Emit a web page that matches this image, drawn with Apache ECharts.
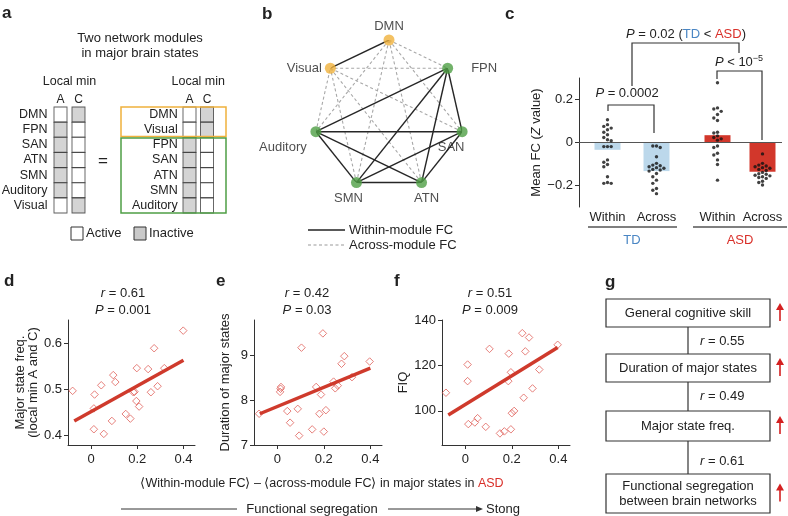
<!DOCTYPE html>
<html><head><meta charset="utf-8">
<script src="https://cdn.jsdelivr.net/npm/echarts@6/dist/echarts.min.js"></script>
<style>html,body{margin:0;padding:0;background:#fff}#c{width:788px;height:516px}</style>
</head><body><div id="c"></div>
<script>
// ---------- Panel a ----------
const aNetworksLeft = ['DMN','FPN','SAN','ATN','SMN','Auditory','Visual'];
const aNetworksRight = ['DMN','Visual','FPN','SAN','ATN','SMN','Auditory'];
const aStateCols = ['A','C'];
const aActiveInA = ['DMN','Visual'];
const aActiveInC = ['FPN','SAN','ATN','SMN','Auditory'];
const moduleOrange = ['DMN','Visual'];
const moduleGreen = ['FPN','SAN','ATN','SMN','Auditory'];
// ---------- Panel b ----------
const bNodes = ['DMN','FPN','SAN','ATN','SMN','Auditory','Visual'];
// ---------- Panel c ----------
const cCategories = ['Within','Across'];
const cGroups = ['TD','ASD'];
const cYTicks = [-0.2, 0, 0.2];
const cBarTD = [-0.034, -0.133];
const cBarASD = [0.034, -0.136];
const cDotsTDWithin = [0.106,0.083,0.075,0.067,0.059,0.048,0.036,0.023,0.013,0.008,-0.019,-0.019,-0.019,-0.081,-0.092,-0.102,-0.113,-0.159,-0.186,-0.190,-0.190];
const cDotsTDAcross = [-0.016,-0.016,-0.023,-0.066,-0.097,-0.105,-0.108,-0.113,-0.117,-0.120,-0.125,-0.128,-0.133,-0.144,-0.159,-0.175,-0.190,-0.214,-0.222,-0.238];
const cDotsASDWithin = [0.278,0.161,0.156,0.145,0.130,0.114,0.102,0.048,0.044,0.031,0.023,0.017,0.011,-0.016,-0.023,-0.050,-0.058,-0.081,-0.102,-0.175];
const cDotsASDAcross = [-0.053,-0.097,-0.105,-0.109,-0.113,-0.117,-0.120,-0.125,-0.130,-0.139,-0.145,-0.148,-0.152,-0.155,-0.159,-0.163,-0.167,-0.180,-0.186,-0.198];
// ---------- Panels d, e, f ----------
const xTicksDEF = [0, 0.2, 0.4];
const dYTicks = [0.4, 0.5, 0.6];
const eYTicks = [7, 8, 9];
const fYTicks = [100, 120, 140];
const dPoints = [[-0.08,0.497],[0.015,0.489],[0.012,0.459],[0.012,0.414],[0.055,0.404],[0.044,0.509],[0.096,0.531],[0.105,0.516],[0.09,0.432],[0.15,0.447],[0.17,0.437],[0.183,0.494],[0.188,0.495],[0.198,0.546],[0.196,0.475],[0.208,0.463],[0.247,0.544],[0.259,0.494],[0.273,0.589],[0.288,0.507],[0.317,0.546],[0.399,0.627]];
const dFit = [[-0.073,0.432],[0.4,0.563]];
const ePoints = [[-0.078,7.70],[0.012,8.19],[0.016,8.30],[0.014,8.26],[0.043,7.76],[0.055,7.50],[0.088,7.81],[0.094,7.21],[0.104,9.18],[0.15,7.35],[0.167,8.30],[0.181,7.70],[0.188,8.13],[0.196,9.50],[0.2,7.30],[0.209,7.78],[0.242,8.42],[0.249,8.27],[0.26,8.33],[0.276,8.82],[0.288,8.99],[0.321,8.52],[0.397,8.87]];
const eFit = [[-0.075,7.70],[0.4,8.72]];
const fPoints = [[-0.083,108.0],[0.01,120.4],[0.01,113.1],[0.013,94.2],[0.041,94.9],[0.053,96.8],[0.088,93.0],[0.104,127.3],[0.149,90.1],[0.168,91.0],[0.187,125.2],[0.185,113.1],[0.196,117.0],[0.196,91.9],[0.2,99.0],[0.21,100.0],[0.245,134.2],[0.251,105.8],[0.258,126.2],[0.274,132.3],[0.289,109.9],[0.318,118.2],[0.397,129.1]];
const fFit = [[-0.073,98.2],[0.397,127.9]];
const statsDEF = [['0.61','0.001'],['0.42','0.03'],['0.51','0.009']];
// ---------- Panel g ----------
const gBoxes = ['General cognitive skill','Duration of major states','Major state freq.','Functional segregation\nbetween brain networks'];
const gR = ['0.55','0.49','0.61'];

const FONT = '"Liberation Sans", Arial, sans-serif';
const INK = '#222';
const TDC = '#4a86c4', ASDC = '#d9302a';
const ORANGE = '#f0b13c', GREEN = '#4f9f45';

function txt(x, y, text, size, extra) {
  return {type:'text', x, y, z: 50, style: Object.assign({text, fontSize:size, fontFamily:FONT, fill:INK,
    textAlign:'center', textVerticalAlign:'middle', align:'center', verticalAlign:'middle'}, extra||{})};
}
function line(x1,y1,x2,y2,st) { return {type:'line', z:50, shape:{x1,y1,x2,y2}, style:Object.assign({stroke:'#333', lineWidth:1.2}, st||{})}; }
function poly(points, st) { return {type:'polyline', z:50, shape:{points}, style:Object.assign({stroke:'#333', lineWidth:1.2, fill:null}, st||{})}; }
function rect(x,y,w,h,st) { return {type:'rect', z:40, shape:{x,y,width:w,height:h}, style:Object.assign({stroke:'#333', lineWidth:1.2, fill:'#fff'}, st||{})}; }
const italic = {i:{fontStyle:'italic', fontFamily:FONT, fontSize:13, fill:INK}};

function swarm(values, pxPerUnit, d) {
  const placed = [];
  return values.map(v => {
    const y = v * pxPerUnit;
    const cands = [0]; for (let k = 1; k < 7; k++) cands.push(-k*d, k*d);
    for (const x of cands) {
      if (placed.every(p => (p.x-x)*(p.x-x) + (p.y-y)*(p.y-y) >= d*d*0.9)) { placed.push({x,y}); return x; }
    }
    placed.push({x:0,y}); return 0;
  });
}

// ---- grids ----
const grids = [
  {left:51.5, top:107, width:36, height:106},
  {left:180.75, top:107, width:35, height:106},
  {left:579, top:78, width:203, height:129},
  {left:583, top:78, width:98, height:129},
  {left:695, top:78, width:90, height:129},
  {left:68, top:320, width:127, height:125},
  {left:254, top:320, width:128, height:125},
  {left:442, top:320, width:128, height:125}
].map(g => Object.assign({outerBoundsMode:'none', containLabel:false}, g));

const hidden = {axisLine:{show:false}, axisTick:{show:false}, splitLine:{show:false}};
const lab = (size, extra) => Object.assign({fontSize:size, color:INK, fontFamily:FONT}, extra||{});

function defX(gi) {
  return {gridIndex:gi, type:'value', min:-0.1, max:0.45, splitLine:{show:false},
    axisLine:{show:true, onZero:false, lineStyle:{color:'#333', width:1}},
    axisTick:{show:true, customValues:xTicksDEF, length:4, lineStyle:{color:'#333'}},
    axisLabel:lab(13, {customValues:xTicksDEF, margin:8})};
}
function defY(gi, min, max, ticks, name, gap) {
  return {gridIndex:gi, type:'value', min, max, splitLine:{show:false},
    axisLine:{show:true, onZero:false, lineStyle:{color:'#333', width:1}},
    axisTick:{show:true, customValues:ticks, length:4, lineStyle:{color:'#333'}},
    axisLabel:lab(13, {customValues:ticks, margin:6}),
    name, nameLocation:'middle', nameRotate:90, nameGap:gap,
    nameTextStyle:{fontSize:13, color:INK, fontFamily:FONT, lineHeight:13}};
}

const xAxis = [
  Object.assign({gridIndex:0, type:'category', data:aStateCols, position:'top', axisLabel:lab(12,{margin:1, interval:0}),
    name:'Local min', nameLocation:'middle', nameGap:19, nameTextStyle:{fontSize:12.5,color:INK,fontFamily:FONT}}, hidden),
  Object.assign({gridIndex:1, type:'category', data:aStateCols, position:'top', axisLabel:lab(12,{margin:1, interval:0}),
    name:'Local min', nameLocation:'middle', nameGap:19, nameTextStyle:{fontSize:12.5,color:INK,fontFamily:FONT}}, hidden),
  {gridIndex:2, type:'value', min:0, max:1, show:false},
  Object.assign({gridIndex:3, type:'category', data:cCategories, axisLabel:lab(13,{margin:4, interval:0})}, hidden, {axisLine:{show:false,onZero:false}}),
  Object.assign({gridIndex:4, type:'category', data:cCategories, axisLabel:lab(13,{margin:4, interval:0})}, hidden, {axisLine:{show:false,onZero:false}}),
  defX(5), defX(6), defX(7)
];
const yAxis = [
  Object.assign({gridIndex:0, type:'category', data:aNetworksLeft, inverse:true, axisLabel:lab(12.5,{margin:4, interval:0})}, hidden),
  Object.assign({gridIndex:1, type:'category', data:aNetworksRight, inverse:true, axisLabel:lab(12.5,{margin:3, interval:0})}, hidden),
  {gridIndex:2, type:'value', min:-0.3, max:0.3, splitLine:{show:false},
    axisLine:{show:true, onZero:false, lineStyle:{color:'#333'}},
    axisTick:{show:true, customValues:cYTicks, length:4, lineStyle:{color:'#333'}},
    axisLabel:lab(13, {customValues:cYTicks, margin:6, formatter: v => v < 0 ? '\u2212' + Math.abs(v) : String(v)}),
    name:'{n|Mean FC (}{i|Z}{n| value)}', nameLocation:'middle', nameRotate:90, nameGap:36,
    nameTextStyle:{rich:{n:{fontSize:13,color:INK,fontFamily:FONT}, i:{fontSize:13,color:INK,fontFamily:FONT,fontStyle:'italic'}}}},
  {gridIndex:3, type:'value', min:-0.3, max:0.3, show:false},
  {gridIndex:4, type:'value', min:-0.3, max:0.3, show:false},
  defY(5, 0.38, 0.65, dYTicks, 'Major state freq.\n(local min A and C)', 22),
  defY(6, 7, 9.8, eYTicks, 'Duration of major states', 22),
  defY(7, 85, 140, fYTicks, 'FIQ', 28)
];

const series = [];
// panel a cells
function aCells(networks, gi) {
  const data = [];
  networks.forEach(n => aStateCols.forEach(col => {
    const active = col === 'A' ? aActiveInA.includes(n) : aActiveInC.includes(n);
    data.push({value:[col, n], itemStyle:{color: active ? '#ffffff' : '#c9c9c9'}});
  }));
  series.push({type:'scatter', xAxisIndex:gi, yAxisIndex:gi, symbol:'rect', symbolSize:[13,15.1], silent:true,
    itemStyle:{borderColor:'#333', borderWidth:1}, data});
}
aCells(aNetworksLeft, 0);
aCells(aNetworksRight, 1);

// panel c
series.push({type:'line', xAxisIndex:2, yAxisIndex:2, data:[[0,0]], symbol:'none', lineStyle:{opacity:0}, silent:true,
  markLine:{silent:true, symbol:'none', label:{show:false}, lineStyle:{color:'#555', width:1.2, type:'solid'}, data:[{yAxis:0}]}});
function cGroup(gi, bars, color, dotsW, dotsA) {
  series.push({type:'bar', xAxisIndex:gi, yAxisIndex:gi, data:bars, barWidth:26, itemStyle:{color}, silent:true, z:2});
  const data = [];
  [[dotsW, cCategories[0]], [dotsA, cCategories[1]]].forEach(([vals, cat]) => {
    const offs = swarm(vals, 215, 3.7);
    vals.forEach((v, i) => data.push({value:[cat, v], symbolOffset:[offs[i], 0]}));
  });
  series.push({type:'scatter', xAxisIndex:gi, yAxisIndex:gi, data, symbolSize:3.4, itemStyle:{color:'#111'}, silent:true, z:5});
}
cGroup(3, cBarTD, '#bcd8eb', cDotsTDWithin, cDotsTDAcross);
cGroup(4, cBarASD, '#d2372b', cDotsASDWithin, cDotsASDAcross);

// panel b
for (let i = 0; i < bNodes.length; i++) for (let j = i + 1; j < bNodes.length; j++) {
  const a = bNodes[i], b = bNodes[j];
  const within = moduleOrange.includes(a) === moduleOrange.includes(b);
  series.push({type:'line', coordinateSystem:'polar', polarIndex:0, data:[[1, a], [1, b]], symbol:'none', silent:true,
    z: within ? 3 : 2,
    lineStyle: within ? {color:'#262626', width:1.4, type:'solid'} : {color:'#a8a8a8', width:1.1, type:[3,2.5]}});
}
const bLabelCfg = {
  DMN:{position:'top', distance:2},
  FPN:{position:'right', distance:18},
  SAN:{position:'bottom', distance:4, offset:[-11,0]},
  ATN:{position:'bottom', distance:4, offset:[5,0]},
  SMN:{position:'bottom', distance:4, offset:[-8,0]},
  Auditory:{position:'bottom', distance:4, offset:[-33,0]},
  Visual:{position:'left', distance:3}
};
series.push({type:'scatter', coordinateSystem:'polar', polarIndex:0, symbolSize:11, silent:true, z:6,
  data: bNodes.map(n => ({value:[1, n], itemStyle:{color: moduleOrange.includes(n) ? ORANGE : GREEN},
    label:Object.assign({show:true, formatter:n, fontSize:13, color:INK, fontFamily:FONT}, bLabelCfg[n])}))});

// panels d e f
[[5, dPoints, dFit], [6, ePoints, eFit], [7, fPoints, fFit]].forEach(([gi, pts, fit]) => {
  series.push({type:'scatter', xAxisIndex:gi, yAxisIndex:gi, data:pts, symbol:'diamond', symbolSize:7.5, silent:true,
    itemStyle:{color:'rgba(0,0,0,0)', borderColor:'#e0605a', borderWidth:1}, z:3});
  series.push({type:'line', xAxisIndex:gi, yAxisIndex:gi, data:fit, symbol:'none', silent:true,
    lineStyle:{color:'#cf3a2c', width:3.5}, z:4});
});

// ---------- graphics ----------
const G = [];
const panelLab = (x, y, t) => txt(x, y, t, 17, {fontWeight:'bold', textAlign:'left', align:'left'});
G.push(panelLab(2, 13, 'a'), panelLab(262, 14, 'b'), panelLab(505, 14, 'c'),
       panelLab(4, 281, 'd'), panelLab(216, 281, 'e'), panelLab(394, 281, 'f'), panelLab(605, 282, 'g'));
// a
G.push(txt(140, 38, 'Two network modules', 13), txt(140, 53, 'in major brain states', 13));
G.push(txt(103, 161, '=', 17));
G.push(rect(121, 107, 105, 29.5, {stroke:ORANGE, lineWidth:1.5, fill:null}));
G.push(rect(121, 138, 105, 75, {stroke:GREEN, lineWidth:1.5, fill:null}));
G.push(rect(71, 227, 12, 13, {lineWidth:1}), txt(86, 233.5, 'Active', 13, {textAlign:'left', align:'left'}));
G.push(rect(134, 227, 12, 13, {lineWidth:1, fill:'#c9c9c9'}), txt(149, 233.5, 'Inactive', 13, {textAlign:'left', align:'left'}));
// b legend
G.push(line(308, 230, 345, 230, {stroke:'#222', lineWidth:1.5}), txt(349, 230, 'Within-module FC', 13, {textAlign:'left', align:'left'}));
G.push(line(308, 245, 345, 245, {stroke:'#999', lineWidth:1.1, lineDash:[3,2.5]}), txt(349, 245, 'Across-module FC', 13, {textAlign:'left', align:'left'}));
// c annotations
G.push(poly([[608,111],[608,105],[654,105],[654,133]]));
G.push(txt(627, 93, '{i|P} = 0.0002', 13, {rich:italic}));
G.push(poly([[632,86],[632,43],[739,43],[739,53]]));
G.push(txt(686, 34, '{i|P} = 0.02 ({b|TD} < {r|ASD})', 13, {rich:Object.assign({b:{fill:TDC,fontSize:13,fontFamily:FONT}, r:{fill:ASDC,fontSize:13,fontFamily:FONT}}, italic)}));
G.push(poly([[717,79],[717,71],[762,71],[762,140]]));
G.push(txt(739, 62, '{i|P} < 10{s|\u22125}', 13, {rich:Object.assign({s:{fontSize:9, fontFamily:FONT, fill:INK, verticalAlign:'top', padding:[0,0,6,0]}}, italic)}));
G.push(line(588, 227, 677, 227, {stroke:'#555', lineWidth:1.3}), line(693, 227, 787, 227, {stroke:'#555', lineWidth:1.3}));
G.push(txt(632, 240, cGroups[0], 13, {fill:TDC}), txt(740, 240, cGroups[1], 13, {fill:ASDC}));
// d e f stats
[123, 307, 490].forEach((cx, k) => {
  G.push(txt(cx, 293, '{i|r} = ' + statsDEF[k][0], 13, {rich:italic}));
  G.push(txt(cx, 310, '{i|P} = ' + statsDEF[k][1], 13, {rich:italic}));
});
G.push(txt(322, 484, '\u27E8Within-module FC\u27E9 \u2013 \u27E8across-module FC\u27E9 in major states in {r|ASD}', 12.5,
  {rich:{r:{fill:ASDC, fontSize:12.5, fontFamily:FONT}}}));
G.push(line(121, 509, 237, 509, {stroke:'#333', lineWidth:1}));
G.push(txt(312, 509, 'Functional segregation', 13));
G.push(line(388, 509, 477, 509, {stroke:'#333', lineWidth:1}));
G.push({type:'polygon', z:50, shape:{points:[[476,506],[476,512],[483,509]]}, style:{fill:'#333'}});
G.push(txt(486, 509, 'Stong', 13, {textAlign:'left', align:'left'}));
// g
const gBoxY = [[299,327],[354,382],[411,441],[474,513]];
gBoxes.forEach((t, k) => {
  const [y1, y2] = gBoxY[k];
  G.push(rect(606, y1, 164, y2 - y1));
  G.push(txt(688, (y1 + y2) / 2, t, 13, {lineHeight:15}));
  const cy = (y1 + y2) / 2;
  G.push(line(780, cy + 8, 780, cy - 4, {stroke:'#d42020', lineWidth:1.6}));
  G.push({type:'polygon', z:50, shape:{points:[[776,cy-3],[784,cy-3],[780,cy-10]]}, style:{fill:'#d42020'}});
  if (k < gR.length) {
    const ny = gBoxY[k+1][0];
    G.push(line(688, y2, 688, ny, {stroke:'#333', lineWidth:1.2}));
    G.push(txt(700, [341, 396, 461][k], '{i|r} = ' + gR[k], 13, {rich:italic, textAlign:'left', align:'left'}));
  }
});

const chart = echarts.init(document.getElementById('c'), null, {renderer:'canvas'});
chart.setOption({
  backgroundColor:'#fff',
  animation:false,
  textStyle:{fontFamily:FONT},
  grid:grids, xAxis, yAxis,
  polar:{center:[389,115], radius:75},
  angleAxis:{type:'category', data:bNodes, startAngle:90 + 180/7, clockwise:true, boundaryGap:true, show:false},
  radiusAxis:{type:'value', min:0, max:1, show:false},
  series,
  graphic:{elements:G}
});
</script></body></html>
